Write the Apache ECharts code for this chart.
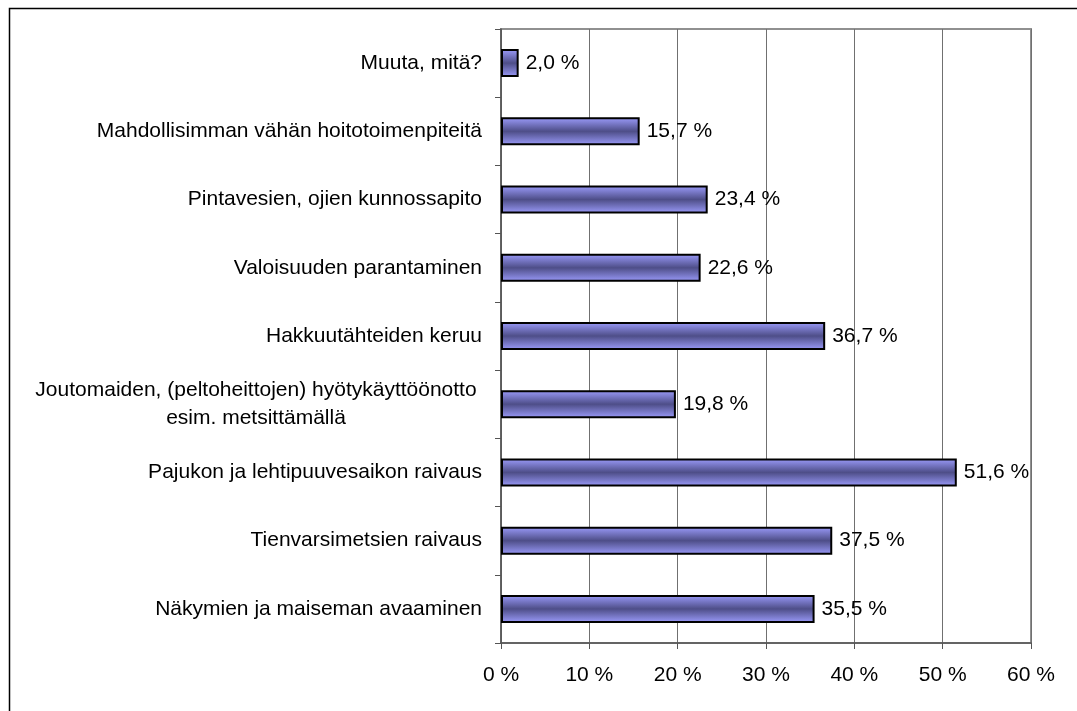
<!DOCTYPE html>
<html>
<head>
<meta charset="utf-8">
<script src="https://cdn.jsdelivr.net/npm/echarts@6/dist/echarts.min.js"></script>
<style>html,body{margin:0;padding:0;background:#fff}#c{width:1077px;height:711px}</style>
</head>
<body>
<div id="c"></div>
<script>
var categories = [
  'Muuta, mitä?',
  'Mahdollisimman vähän hoitotoimenpiteitä',
  'Pintavesien, ojien kunnossapito',
  'Valoisuuden parantaminen',
  'Hakkuutähteiden keruu',
  'Joutomaiden, (peltoheittojen) hyötykäyttöönotto\nesim. metsittämällä',
  'Pajukon ja lehtipuuvesaikon raivaus',
  'Tienvarsimetsien raivaus',
  'Näkymien ja maiseman avaaminen'
];
var values = [2.0, 15.7, 23.4, 22.6, 36.7, 19.8, 51.6, 37.5, 35.5];
var xTicks = [0, 10, 20, 30, 40, 50, 60];

var chart = echarts.init(document.getElementById('c'), null, {renderer: 'canvas'});
var font = 'Liberation Sans, Arial, sans-serif';
var fs = 21;
var barGrad = new echarts.graphic.LinearGradient(0, 0, 0, 1, [
  {offset: 0, color: '#9c9cfc'},
  {offset: 0.5, color: '#4e4e88'},
  {offset: 1, color: '#9c9cfc'}
]);
chart.setOption({
  animation: false,
  graphic: [{
    type: 'rect', silent: true, z: -10,
    shape: {x: 9.5, y: 8.5, width: 1100, height: 720},
    style: {fill: 'none', stroke: '#000', lineWidth: 1.5}
  }, {
    type: 'rect', silent: true, z: -5,
    shape: {x: 501, y: 29, width: 530, height: 614},
    style: {fill: 'none', stroke: '#909090', lineWidth: 2}
  }],
  grid: {left: 501, top: 29, width: 530, height: 614, containLabel: false},
  xAxis: {
    type: 'value', min: xTicks[0], max: xTicks[xTicks.length - 1], interval: 10,
    axisLine: {show: true, lineStyle: {color: '#555', width: 1.5}},
    axisTick: {show: true, length: 6, lineStyle: {color: '#555'}},
    splitLine: {show: true, lineStyle: {color: '#707070', width: 1}},
    axisLabel: {
      color: '#000', fontSize: fs, fontFamily: font, margin: 22,
      formatter: function (v) { return v + ' %'; }
    }
  },
  yAxis: {
    type: 'category', data: categories, inverse: true,
    axisLine: {show: true, lineStyle: {color: '#555', width: 1.5}},
    axisTick: {show: true, length: 6, lineStyle: {color: '#555'}},
    axisLabel: {
      color: '#000', fontSize: fs, fontFamily: font, margin: 19, lineHeight: 27,
      formatter: function (v) {
        if (v.indexOf('\n') >= 0) {
          var p = v.split('\n');
          return '{c|' + p[0] + '}\n{c|' + p[1] + '}';
        }
        return v;
      },
      rich: {c: {width: 452, align: 'center', fontSize: fs, fontFamily: font, lineHeight: 28, color: '#000'}}
    }
  },
  series: [{
    type: 'bar', data: values, barWidth: 28,
    itemStyle: {color: barGrad, borderColor: '#000', borderWidth: 2},
    label: {
      show: true, position: 'right', distance: 7, color: '#000', fontSize: fs, fontFamily: font,
      formatter: function (p) { return p.value.toFixed(1).replace('.', ',') + ' %'; }
    }
  }]
});
</script>
</body>
</html>
